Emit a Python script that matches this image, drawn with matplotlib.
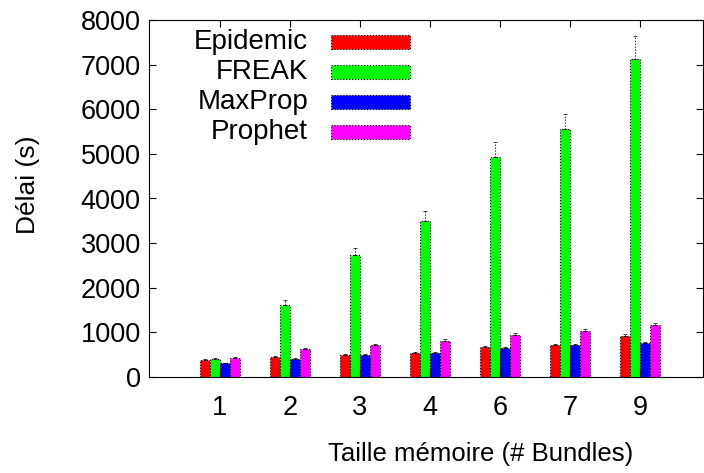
import numpy as np
import matplotlib.pyplot as plt
from matplotlib.patches import Rectangle

plt.rcParams['font.family'] = ['Liberation Sans', 'DejaVu Sans']

# data
tailles = ['1', '2', '3', '4', '6', '7', '9']
protocoles = ['Epidemic', 'FREAK', 'MaxProp', 'Prophet']
couleurs = ['#ff0000', '#00ff00', '#0000ff', '#ff00ff']

epidemic = [380, 450, 490, 540, 670, 720, 920]
freak = [400, 1610, 2735, 3495, 4930, 5560, 7130]
maxprop = [310, 400, 490, 540, 650, 720, 760]
prophet = [425, 630, 720, 810, 940, 1030, 1165]

err_epidemic = [20, 20, 30, 30, 30, 30, 40]
err_freak = [20, 110, 155, 225, 340, 340, 510]
err_maxprop = [10, 20, 30, 30, 30, 30, 30]
err_prophet = [20, 20, 30, 40, 40, 50, 50]

series = [epidemic, freak, maxprop, prophet]
erreurs = [err_epidemic, err_freak, err_maxprop, err_prophet]

fig = plt.figure(figsize=(7.04, 4.73), dpi=100)
ax = fig.add_axes([149/704, 1-377/473, (703-149)/704, (377-20)/473])

x = np.arange(len(tailles))
w = 0.143
for k in range(4):
    pos = x + (k - 1.5) * w
    ax.bar(pos, series[k], width=w, color=couleurs[k], edgecolor='black',
           linestyle=':', linewidth=0.8)
    eb = ax.errorbar(pos, series[k], yerr=[np.zeros(len(tailles)), erreurs[k]],
                     fmt='none', ecolor='black', elinewidth=0.8, capsize=1.5,
                     capthick=0.5)
    eb[2][0].set_linestyle(':')
    for c in eb[1]:
        c.set_color('#999999')

ax.set_xlim(-1.01, 6.9)
ax.set_ylim(0, 8000)
ax.set_xticks(x)
ax.set_xticklabels(tailles)
ax.set_yticks(np.arange(0, 8001, 1000))
ax.tick_params(direction='in', top=True, right=True, labelsize=19.5, length=5)
ax.tick_params(axis='x', pad=13)
ax.tick_params(axis='y', pad=6)
ax.set_xlabel('Taille mémoire (# Bundles)', fontsize=18.5, va='center')
ax.xaxis.set_label_coords((481 - 149) / 554, (377 - 454) / 357)
ax.set_ylabel('Délai (s)', fontsize=19, va='center')
ax.yaxis.set_label_coords((28 - 149) / 554, (377 - 185) / 357)

# legend like gnuplot: labels right aligned, swatch on the right
for k, nom in enumerate(protocoles):
    yc = 42 + 30 * k
    fig.text(308/704, 1 - yc/473, nom, ha='right', va='center', fontsize=20)
    fig.add_artist(Rectangle((331/704, 1 - (yc + 7)/473), 79/704, 14/473,
                             transform=fig.transFigure, facecolor=couleurs[k],
                             edgecolor='black', linestyle=':', linewidth=0.8))

fig.savefig('out.png', dpi=100)
